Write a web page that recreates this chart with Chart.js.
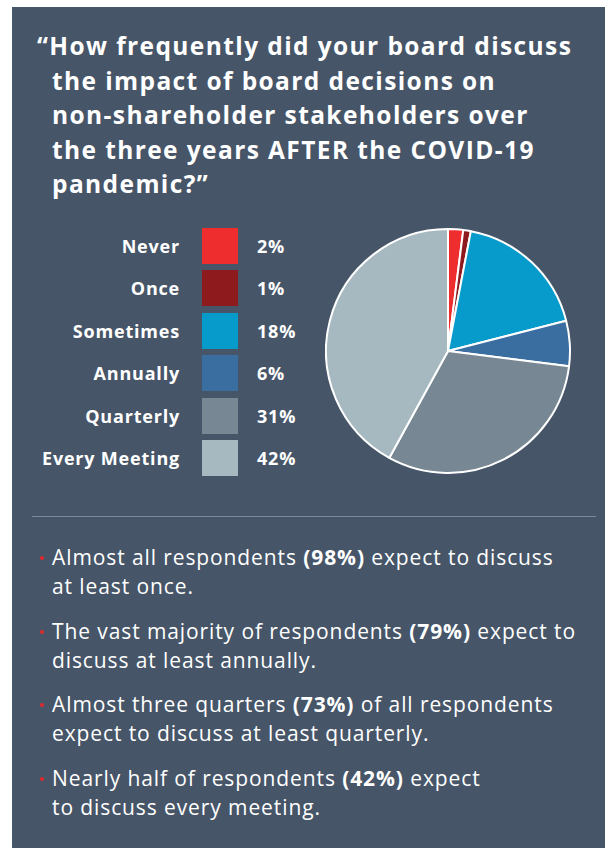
<!DOCTYPE html>
<html>
<head>
<meta charset="utf-8">
<script src="https://cdn.jsdelivr.net/npm/chart.js@4.4.2/dist/chart.umd.min.js"></script>
<style>
  html, body { margin: 0; padding: 0; background: #fff; }
  body { width: 605px; height: 848px; position: relative; overflow: hidden; font-family: "Open Sans", "Noto Sans", sans-serif; }
  .panel { position: absolute; left: 12px; top: 7px; right: 0; bottom: 0; background: #465568; }
  .title { position: absolute; left: 37px; top: 29px; width: 565px; color: #fff; font-weight: 700; font-size: 24.5px; line-height: 34.5px; letter-spacing: 1.4px; }
  .title span { display: block; padding-left: 15px; white-space: nowrap; }
  .title span.first { padding-left: 0; }
  .legend { position: absolute; left: 0; top: 228px; width: 320px; }
  .legend .row { position: absolute; left: 0; height: 36px; width: 320px; }
  .legend .lbl { position: absolute; right: 140px; top: 0; line-height: 36px; color: #fff; font-weight: 700; font-size: 18px; letter-spacing: 0.8px; white-space: nowrap; }
  .legend .box { position: absolute; left: 202px; top: 0; width: 36px; height: 36px; }
  .legend .pct { position: absolute; left: 257px; top: 0; line-height: 36px; color: #fff; font-weight: 700; font-size: 18px; letter-spacing: 0.8px; }
  .pie { position: absolute; left: 325px; top: 228px; width: 246px; height: 246px; }
  .rule { position: absolute; left: 32px; top: 516px; width: 564px; height: 1px; background: #7b8999; }
  .notes { position: absolute; left: 52px; top: 0; width: 550px; color: #fff; font-size: 21px; line-height: 29px; letter-spacing: 0.9px; }
  .note { position: absolute; left: 0; white-space: nowrap; }
  .note::before { content: ""; position: absolute; left: -12px; top: 13px; width: 4px; height: 4px; border-radius: 50%; background: #e0292b; }
  .note b { font-weight: 700; }
</style>
</head>
<body>
<div class="panel"></div>
<div class="title">
  <span class="first">“How frequently did your board discuss</span>
  <span>the impact of board decisions on</span>
  <span>non-shareholder stakeholders over</span>
  <span>the three years AFTER the COVID-19</span>
  <span>pandemic?”</span>
</div>
<div class="legend" id="legend"></div>
<div class="pie"><canvas id="pie"></canvas></div>
<div class="rule"></div>
<div class="notes" id="notes"></div>
<script>
const categories = ['Never', 'Once', 'Sometimes', 'Annually', 'Quarterly', 'Every Meeting'];
const shares = [2, 1, 18, 6, 31, 42];
const colors = ['#ee2d2f', '#8e1a1e', '#079bcc', '#3a6da0', '#778793', '#a6b9c1'];

const notes = [
  ['Almost all respondents <b>(98%)</b> expect to discuss', 'at least once.'],
  ['The vast majority of respondents <b>(79%)</b> expect to', 'discuss at least annually.'],
  ['Almost three quarters <b>(73%)</b> of all respondents', 'expect to discuss at least quarterly.'],
  ['Nearly half of respondents <b>(42%)</b> expect', 'to discuss every meeting.']
];

const legend = document.getElementById('legend');
categories.forEach((name, i) => {
  const row = document.createElement('div');
  row.className = 'row';
  row.style.top = (i * 42.4) + 'px';
  row.innerHTML = `<div class="lbl">${name}</div>` +
    `<div class="box" style="background:${colors[i]}"></div>` +
    `<div class="pct">${shares[i]}%</div>`;
  legend.appendChild(row);
});

const notesEl = document.getElementById('notes');
notes.forEach((lines, i) => {
  const note = document.createElement('div');
  note.className = 'note';
  note.style.top = (543 + i * 73.7) + 'px';
  note.innerHTML = lines.join('<br>');
  notesEl.appendChild(note);
});

new Chart(document.getElementById('pie'), {
  type: 'pie',
  data: {
    labels: categories,
    datasets: [{
      data: shares,
      backgroundColor: colors,
      borderColor: '#ffffff',
      borderWidth: 2
    }]
  },
  options: {
    responsive: true,
    maintainAspectRatio: false,
    animation: false,
    layout: { padding: 0 },
    plugins: {
      legend: { display: false },
      tooltip: { enabled: false }
    }
  }
});
</script>
</body>
</html>
